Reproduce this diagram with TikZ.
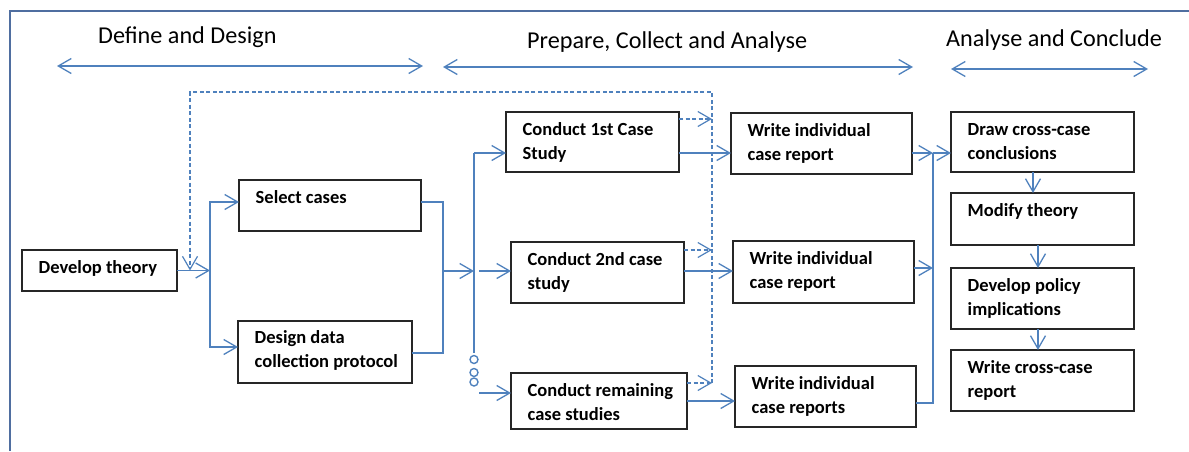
\documentclass[tikz,border=0pt]{standalone}
\usepackage{fontspec}
\setmainfont{Carlito}
\usetikzlibrary{arrows.meta}
\definecolor{lnblue}{RGB}{79,129,189}
\definecolor{frameblue}{RGB}{79,110,160}
\begin{document}
\begin{tikzpicture}[x=1pt,y=-1pt,
  box/.style={draw=black!85,line width=1.5pt,inner sep=0pt,outer sep=0pt,anchor=north west},
  txt/.style={anchor=base west,inner sep=0pt,font=\bfseries\fontsize{18.5}{24}\selectfont},
  hdr/.style={anchor=base west,inner sep=0pt,font=\fontsize{24.2}{29}\selectfont},
  ln/.style={draw=lnblue,line width=1.3pt},
  arr/.style={ln,-{Straight Barb[length=13pt,width=15pt,line width=1.3pt]}},
  darr/.style={ln,{Straight Barb[length=13pt,width=15pt,line width=1.3pt]}-{Straight Barb[length=13pt,width=15pt,line width=1.3pt]}},
  dsh/.style={ln,line width=1.2pt,dash pattern=on 4pt off 2.5pt},
  dsharr/.style={dsh,-{Straight Barb[length=13pt,width=15pt,line width=1.2pt]}},
  ring/.style={draw=lnblue,line width=1.4pt,circle,inner sep=0pt,minimum size=8pt}
]
\useasboundingbox (0,0) rectangle (1189,451);
% frame
\draw[frameblue,line width=1.6pt] (10,451) -- (10,11) -- (1189,11);

% headers
\node[hdr] (h1) at (98,43) {Define and Design};
\node[hdr] (h2) at (527,48) {Prepare, Collect and Analyse};
\node[hdr] (h3) at (946,46) {Analyse and Conclude};
\coordinate (a1l) at (57,66);  \coordinate (a1r) at (423,66);
\coordinate (a2l) at (443,67); \coordinate (a2r) at (913,67);
\coordinate (a3l) at (951,69); \coordinate (a3r) at (1148,69);
\draw[darr] (a1l) -- (a1r);
\draw[darr] (a2l) -- (a2r);
\draw[darr] (a3l) -- (a3r);

% boxes
\node[box,minimum width=155pt,minimum height=41pt] (dev) at (22,250) {};
\node[box,minimum width=182pt,minimum height=51pt] (sel) at (239,180) {};
\node[box,minimum width=174pt,minimum height=62pt] (des) at (238,321) {};
\node[box,minimum width=173pt,minimum height=60pt] (c1) at (506,112) {};
\node[box,minimum width=173pt,minimum height=61pt] (c2) at (511,242) {};
\node[box,minimum width=176pt,minimum height=56pt] (c3) at (511,373) {};
\node[box,minimum width=181pt,minimum height=61pt] (w1) at (731,113) {};
\node[box,minimum width=181pt,minimum height=62pt] (w2) at (733,241) {};
\node[box,minimum width=181pt,minimum height=61pt] (w3) at (735,366) {};
\node[box,minimum width=183pt,minimum height=60pt] (d1) at (951,112) {};
\node[box,minimum width=183pt,minimum height=52pt] (d2) at (951,193) {};
\node[box,minimum width=183pt,minimum height=61pt] (d3) at (951,268) {};
\node[box,minimum width=183pt,minimum height=61pt] (d4) at (951,350) {};

% texts
\node[txt] (devT) at (38.5,273.5) {Develop theory};
\node[txt] (selT) at (255.5,203.5) {Select cases};
\node[txt] (desT) at (254.5,343.5) {\begin{tabular}[t]{@{}l@{}}Design data\\collection protocol\end{tabular}};
\node[txt] (c1T) at (522.5,135.5) {\begin{tabular}[t]{@{}l@{}}Conduct 1st Case\\Study\end{tabular}};
\node[txt] (c2T) at (527.5,265.5) {\begin{tabular}[t]{@{}l@{}}Conduct 2nd case\\study\end{tabular}};
\node[txt] (c3T) at (527.5,396.5) {\begin{tabular}[t]{@{}l@{}}Conduct remaining\\case studies\end{tabular}};
\node[txt] (w1T) at (747.5,136.5) {\begin{tabular}[t]{@{}l@{}}Write individual\\case report\end{tabular}};
\node[txt] (w2T) at (749.5,264.5) {\begin{tabular}[t]{@{}l@{}}Write individual\\case report\end{tabular}};
\node[txt] (w3T) at (751.5,389.5) {\begin{tabular}[t]{@{}l@{}}Write individual\\case reports\end{tabular}};
\node[txt] (d1T) at (967.5,135.5) {\begin{tabular}[t]{@{}l@{}}Draw cross-case\\conclusions\end{tabular}};
\node[txt] (d2T) at (967.5,216.5) {Modify theory};
\node[txt] (d3T) at (967.5,291.5) {\begin{tabular}[t]{@{}l@{}}Develop policy\\implications\end{tabular}};
\node[txt] (d4T) at (967.5,373.5) {\begin{tabular}[t]{@{}l@{}}Write cross-case\\report\end{tabular}};

% left split
\coordinate (j1) at (210,270.5);
\draw[arr] (dev.east) -- (j1);
\draw[arr] (j1) |- ([yshift=3.5pt]sel.west);
\draw[arr] (j1) |- ([yshift=5pt]des.west);

% merge
\coordinate (j2) at (443,271);
\draw[ln] ([yshift=3.5pt]sel.east) -| (j2) |- ([yshift=-1pt]des.east);
\coordinate (j3) at (474,271);
\draw[arr] (j2) -- (j3);

% distribution to case studies
\coordinate (j3t) at (474,153);
\coordinate (j3b) at (474,353);
\draw[ln] (j3t) -- (j3b);
\draw[arr] (j3t) -- (j3t -| c1.west);
\coordinate (m2) at (479,271);
\draw[arr] (m2) -- (m2 -| c2.west);
\node[ring] (o1) at (474,359.5) {};
\node[ring] (o2) at (474,372.5) {};
\node[ring] (o3) at (474,382) {};
\coordinate (m3) at (479,393);
\draw[arr] (m3) -- (m3 -| c3.west);

% case studies -> reports
\coordinate (c1o) at ([yshift=-11pt]c1.east);
\coordinate (c2o) at ([yshift=1.5pt]c2.east);
\coordinate (c3o) at (c3.east);
\draw[arr] (c1o) -- (c1o -| w1.west);
\draw[arr] (c2o) -- (c2o -| w2.west);
\draw[arr] (c3o) -- (c3o -| w3.west);

% dashed feedback
\coordinate (e1) at ([yshift=23pt]c1.east);
\coordinate (e2) at ([yshift=22.5pt]c2.east);
\coordinate (e3) at ([yshift=18pt]c3.east);
\coordinate (dv1) at (712,119);
\coordinate (dv2) at (712,250);
\coordinate (dv3) at (712,383);
\draw[dsharr] (e1) -- (dv1);
\draw[dsharr] (e2) -- (dv2);
\draw[dsharr] (e3) -- (dv3);
\coordinate (dtr) at (712,92);
\coordinate (dtl) at (190,92);
\coordinate (dend) at (190,270.5);
\draw[dsharr] (dv3) -- (dtr) -- (dtl) -- (dend);

% reports -> cross-case
\coordinate (k1) at (933,153);
\coordinate (w1o) at ([yshift=-9.5pt]w1.east);
\coordinate (w2o) at ([yshift=4pt]w2.east);
\coordinate (w3o) at ([yshift=-6.5pt]w3.east);
\draw[arr] (w1o) -- (k1);
\draw[arr] (k1) -- (k1 -| d1.west);
\draw[arr] (w2o) -- (w2o -| k1);
\draw[ln] (w3o) -| (k1);

% right column
\draw[arr] ([xshift=-9.5pt]d1.south) -- ([xshift=-9.5pt]d2.north);
\draw[arr] ([xshift=-4.5pt]d2.south) -- ([xshift=-4.5pt]d3.north);
\draw[arr] ([xshift=-4.5pt]d3.south) -- ([xshift=-4.5pt]d4.north);
\end{tikzpicture}
\end{document}
